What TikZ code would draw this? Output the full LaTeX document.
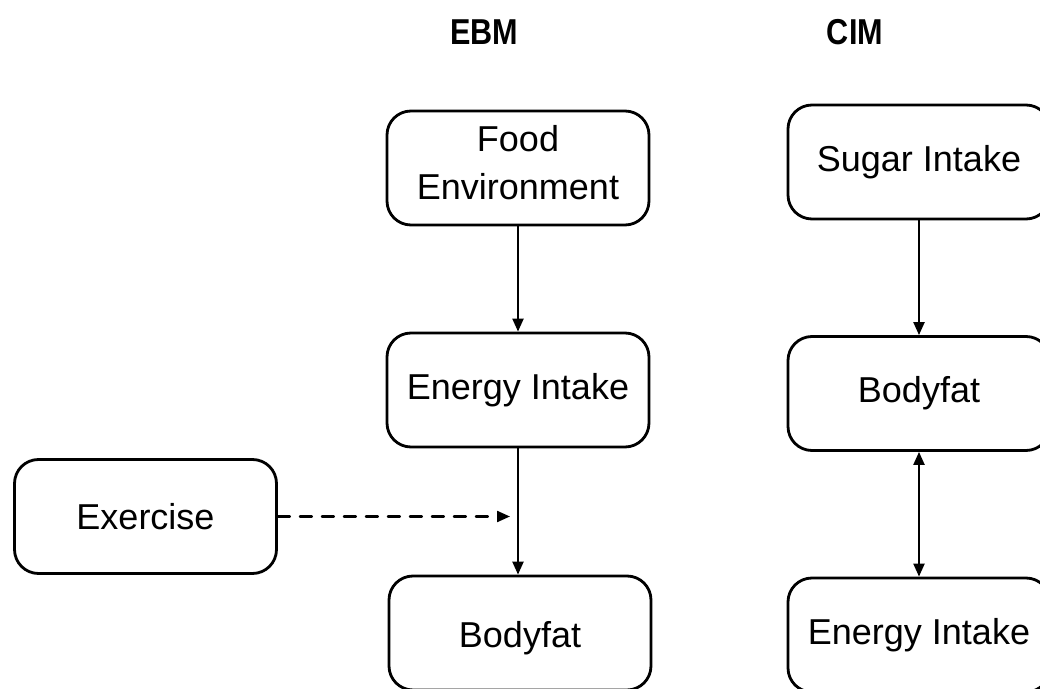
\documentclass[tikz,border=0pt]{standalone}
\usepackage{fontspec}
\setmainfont{Liberation Sans}
\usetikzlibrary{arrows.meta}
\begin{document}
\begin{tikzpicture}[x=0.5pt,y=-0.5pt,line join=round,line cap=round,>={Triangle[length=6.5pt,width=5.5pt]},line width=1.4pt]
	\tikzset{every node/.style={font=\fontsize{18}{24}\selectfont},
		box/.style={draw,rounded corners=12pt,align=center,minimum width=131pt,minimum height=57pt,inner sep=0pt},
		title/.style={font=\fontsize{18}{24}\selectfont\bfseries},
		link/.style={line width=1.1pt}}
	\useasboundingbox (0,0) rectangle (1040,689);
	\clip (0,0) rectangle (1040,689);
	% column titles
	\node[title] (ebm) at (484,32) {\scalebox{0.85}[1]{EBM}};
	\node[title] (cim) at (855,32) {\scalebox{0.85}[1]{CIM}};
	% EBM side
	\node[box,text depth=6pt] (food) at (518,168) {Food\\Environment};
	\node[box] (energy) at (518,390) {Energy Intake};
	\node[box,text height=18pt] (bodyfat) at (520,633) {Bodyfat};
	\node[box] (exercise) at (145.5,516.5) {Exercise};
	\coordinate (meet) at (510,516.5);
	\draw[link,->] (food.south)--(energy.north);
	\draw[link,->] (energy.south)--(energy.south |- bodyfat.north);
	\draw[link,->,dashed,dash pattern=on 6pt off 5pt] (exercise.east)--(meet);
	% CIM side
	\node[box] (sugar) at (919,162) {Sugar Intake};
	\node[box] (bodyfatc) at (919,393.5) {Bodyfat};
	\node[box] (energyc) at (919,635) {Energy Intake};
	\draw[link,->] (sugar.south)--(bodyfatc.north);
	\draw[link,<->] (bodyfatc.south)--(energyc.north);
\end{tikzpicture}
\end{document}
